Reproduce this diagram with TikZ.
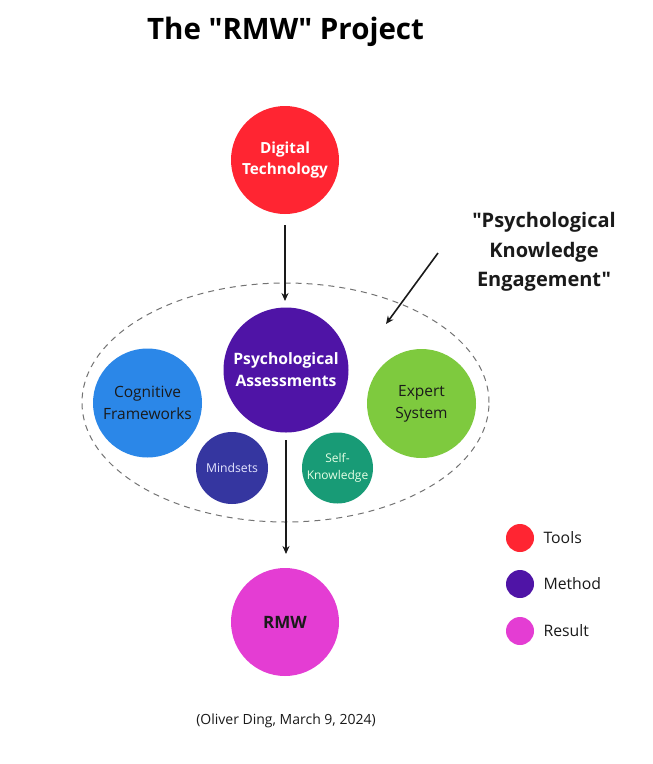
\documentclass[tikz,border=0pt]{standalone}
\usepackage{fontspec}
\setmainfont{Open Sans}[Ligatures=TeXOff]
\usetikzlibrary{arrows.meta,shapes.geometric}
\definecolor{cred}{HTML}{FF2532}
\definecolor{cpurple}{HTML}{4F14A6}
\definecolor{cblue}{HTML}{2B87E8}
\definecolor{cgreen}{HTML}{7ECA3E}
\definecolor{cindigo}{HTML}{3536A0}
\definecolor{cteal}{HTML}{189B76}
\definecolor{cmag}{HTML}{E43DD3}
\definecolor{ctext}{HTML}{1A1A1A}
\tikzset{
  ball/.style={circle, inner sep=0pt, align=center},
  arr/.style={line width=1.6pt, draw=ctext, -{Stealth[length=8pt,width=7pt]}},
  legdot/.style={circle, inner sep=0pt, minimum size=28pt},
  legtxt/.style={anchor=west, font=\fontsize{15.8}{18}\selectfont, text=ctext},
}
\begin{document}
\begin{tikzpicture}[x=1pt,y=-1pt]
\useasboundingbox[fill=white] (0,0) rectangle (653,764);
\node (title) at (285.5,32) {\fontsize{29.5}{34}\selectfont\bfseries The "RMW" Project};
\node[draw=gray!90!black, line width=1pt, dash pattern=on 6pt off 5pt, ellipse, minimum width=407pt, minimum height=239pt, inner sep=0pt] (ell) at (285.5,402.5) {};
\node[ball, fill=cred, minimum size=108pt, text=white, font=\fontsize{15.3}{21}\selectfont\bfseries] (dt) at (285,160) {Digital\\Technology};
\node[ball, fill=cpurple, minimum size=125pt, text=white, font=\fontsize{15.7}{22}\selectfont\bfseries] (pa) at (286,370) {Psychological\\Assessments};
\node[ball, fill=cblue, minimum size=109pt, text=ctext, font=\fontsize{15.5}{22}\selectfont] (cf) at (147.5,403) {Cognitive\\Frameworks};
\node[ball, fill=cgreen, minimum size=109pt, text=ctext, font=\fontsize{15.5}{22}\selectfont] (es) at (421.5,403.5) {Expert\\System};
\node[ball, fill=cindigo, minimum size=72pt, text=white!90!blue, font=\fontsize{12.2}{16}\selectfont] (ms) at (232,468) {Mindsets};
\node[ball, fill=cteal, minimum size=71pt, text=white!90!green, font=\fontsize{12}{17}\selectfont] (sk) at (337.5,468) {Self-\\Knowledge};
\node[ball, fill=cmag, minimum size=108pt, text=ctext, font=\fontsize{17}{20}\selectfont\bfseries] (rmw) at (285,622) {RMW};
\coordinate (a1s) at (285,225);
\coordinate (a1e) at (285,301);
\draw[arr] (a1s) -- (a1e);
\coordinate (a2s) at (286,440);
\coordinate (a2e) at (286,554);
\draw[arr] (a2s) -- (a2e);
\node[align=center, font=\fontsize{20}{29.5}\selectfont\bfseries, text=ctext] (pke) at (544,252) {"Psychological\\Knowledge\\Engagement"};
\coordinate (a3s) at (438,253);
\coordinate (a3e) at (386,324);
\draw[arr] (a3s) -- (a3e);
\node[legdot, fill=cred] (l1) at (520,538) {};
\node[legdot, fill=cpurple] (l2) at (520,584) {};
\node[legdot, fill=cmag] (l3) at (520,631) {};
\node[legtxt] (t1) at (540,538) {Tools};
\node[legtxt] (t2) at (540,584) {Method};
\node[legtxt] (t3) at (540,631) {Result};
\node[font=\fontsize{14}{16}\selectfont, text=ctext] (foot) at (286,721) {(Oliver Ding, March 9, 2024)};
\end{tikzpicture}
\end{document}
